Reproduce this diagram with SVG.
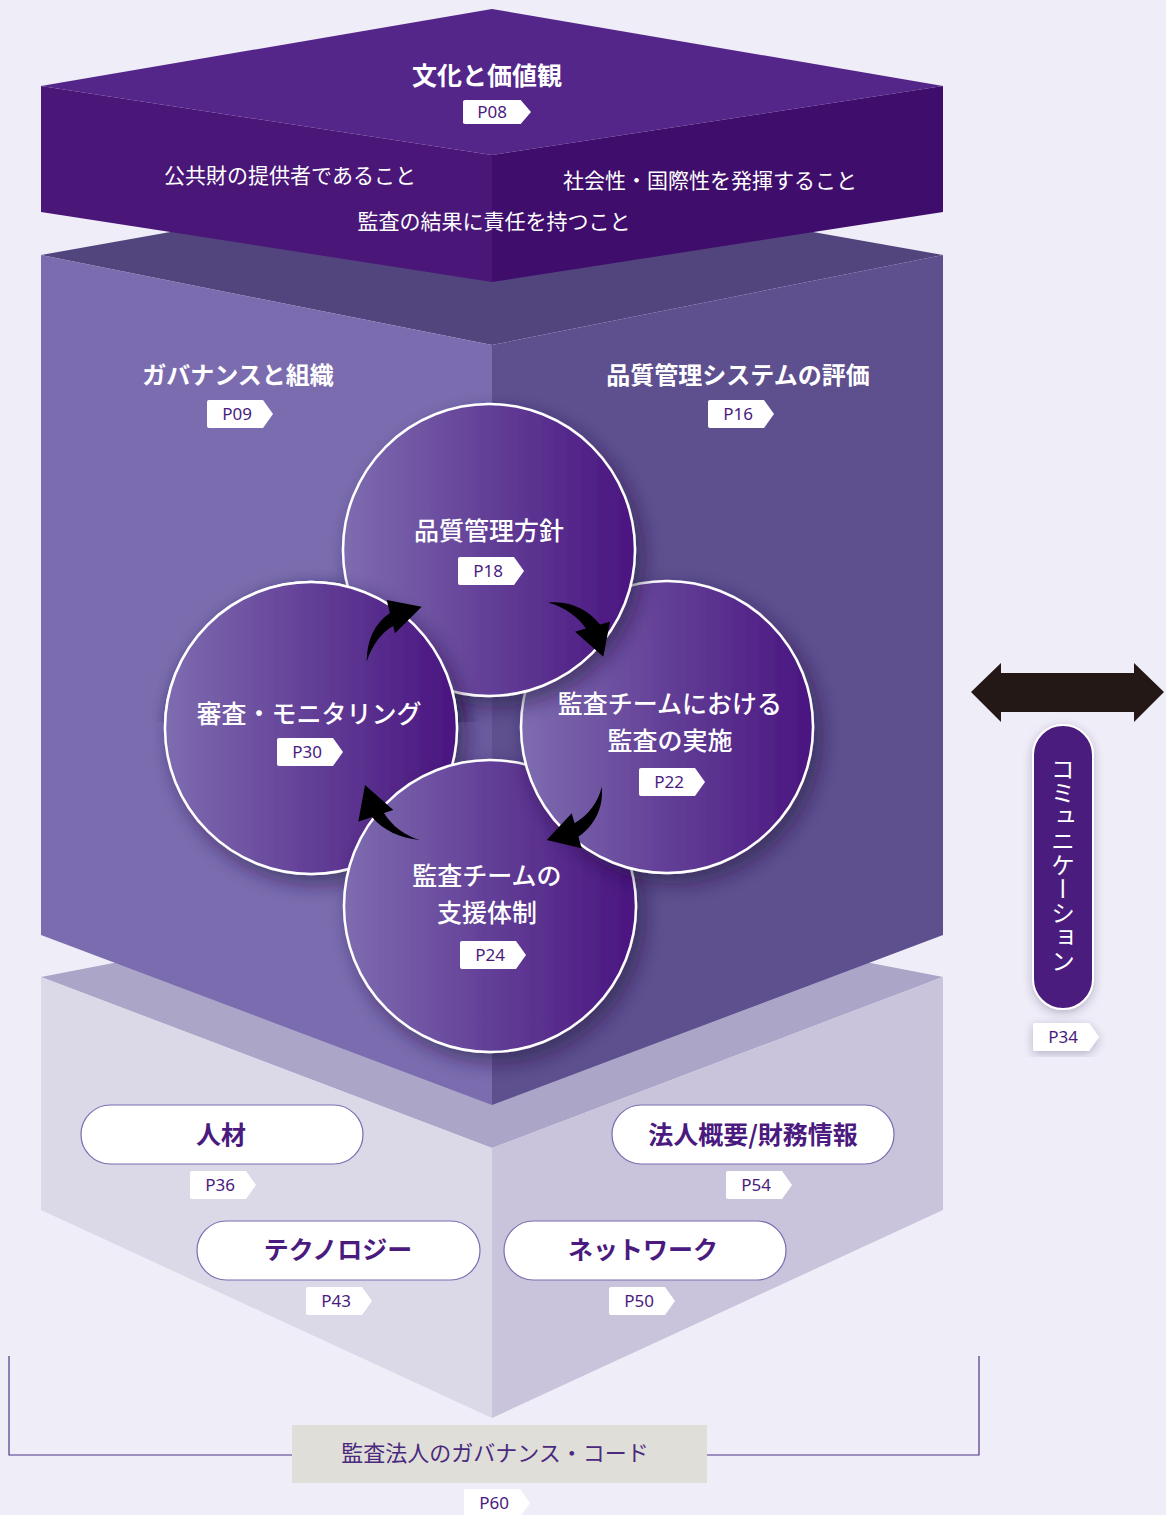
<svg xmlns="http://www.w3.org/2000/svg" width="1166" height="1515" viewBox="0 0 1166 1515">
<style>
.jp{font-family:"Noto Sans CJK JP","Noto Sans",sans-serif}
.wh{fill:#ffffff}
.h1{font-size:25px;font-weight:700}
.s1{font-size:21px;font-weight:400}
.h2{font-size:24px;font-weight:700}
.ct{font-size:25px;font-weight:500;fill:#ffffff}
.pill{fill:#ffffff;stroke:#7b6db0;stroke-width:1.2}
.pt{font-size:25px;font-weight:700;fill:#4a1a7e}
.tag{fill:#ffffff}
.tt{font-family:"Noto Sans","Liberation Sans",sans-serif;font-size:17px;fill:#4a1a7e;text-anchor:middle}
.circ{stroke:#ffffff;stroke-width:2.5}
.arr{fill:#000000}
</style>
<defs>
<linearGradient id="cg" x1="0" y1="0" x2="1" y2="0">
<stop offset="0" stop-color="#7e6cb0"/>
<stop offset="0.5" stop-color="#633f97"/>
<stop offset="1" stop-color="#4a1580"/>
</linearGradient>
<filter id="sh" x="-30%" y="-30%" width="170%" height="170%">
<feDropShadow dx="7" dy="9" stdDeviation="10" flood-color="#1c0d3a" flood-opacity="0.55"/>
</filter>
<filter id="sh2" x="-50%" y="-20%" width="200%" height="140%">
<feDropShadow dx="0" dy="3" stdDeviation="5" flood-color="#3a2a60" flood-opacity="0.3"/>
</filter>
<path id="tg" d="M2,0 H56 L66,14 L56,28 H2 Q0,28 0,26 V2 Q0,0 2,0 Z"/>
<clipPath id="upper"><rect x="0" y="0" width="1166" height="722"/></clipPath>
</defs>

<rect x="0" y="0" width="1166" height="1515" fill="#efedf7"/>

<!-- bottom block -->
<g id="base-block">
<polygon points="41,977 492,890 943,977 492,1148" fill="#aba6c8"/>
<polygon points="41,977 492,1148 492,1418 41,1210" fill="#dbd8e8"/>
<polygon points="943,977 492,1148 492,1418 943,1210" fill="#c9c4dc"/>
</g>

<!-- middle block -->
<g id="middle-block">
<polygon points="41,255 492,175 943,255 492,345" fill="#52457e"/>
<polygon points="41,255 492,345 492,1105 41,935" fill="#7b6cb0"/>
<polygon points="943,255 492,345 492,1105 943,935" fill="#5e4f8f"/>
<rect x="455" y="680" width="37" height="90" fill="#6a5a9f"/>
</g>

<!-- top block -->
<g id="culture">
<polygon points="41,86 492,9 943,86 492,155" fill="#55268a"/>
<polygon points="41,86 492,155 492,282 41,212" fill="#4a1778"/>
<polygon points="943,86 492,155 492,282 943,212" fill="#3f0d6b"/>
<text class="jp wh h1" x="487" y="85" text-anchor="middle">文化と価値観</text>
<use href="#tg" class="tag" transform="translate(463,100) scale(1.03,0.86)"/>
<text class="tt" x="492" y="118">P08</text>
<text class="jp wh s1" x="290" y="183" text-anchor="middle">公共財の提供者であること</text>
<text class="jp wh s1" x="710" y="188" text-anchor="middle">社会性・国際性を発揮すること</text>
<text class="jp wh s1" x="494" y="229" text-anchor="middle">監査の結果に責任を持つこと</text>
</g>

<g id="governance">
<text class="jp wh h2" x="238" y="384" text-anchor="middle">ガバナンスと組織</text>
<use href="#tg" class="tag" x="207" y="400"/>
<text class="tt" x="237" y="420">P09</text>
</g>
<g id="qms-evaluation">
<text class="jp wh h2" x="738" y="384" text-anchor="middle">品質管理システムの評価</text>
<use href="#tg" class="tag" x="708" y="400"/>
<text class="tt" x="738" y="420">P16</text>
</g>

<!-- circles -->
<g id="monitoring">
<circle class="circ" cx="311" cy="728" r="146" fill="url(#cg)" filter="url(#sh)"/>
</g>
<g id="team-support">
<circle class="circ" cx="490" cy="906" r="146" fill="url(#cg)" filter="url(#sh)"/>
</g>
<g id="audit-execution">
<circle class="circ" cx="667" cy="727" r="146" fill="url(#cg)" filter="url(#sh)"/>
</g>
<g id="quality-policy">
<circle class="circ" cx="489" cy="550" r="146" fill="url(#cg)" filter="url(#sh)"/>
</g>
<g id="monitoring-overlap" clip-path="url(#upper)">
<circle class="circ" cx="311" cy="728" r="146" fill="url(#cg)" filter="url(#sh)"/>
</g>

<g id="circle-labels">
<text class="jp ct" x="489" y="540" text-anchor="middle">品質管理方針</text>
<use href="#tg" class="tag" x="458" y="557"/>
<text class="tt" x="488" y="577">P18</text>

<text class="jp ct" x="309" y="723" text-anchor="middle">審査・モニタリング</text>
<use href="#tg" class="tag" x="277" y="738"/>
<text class="tt" x="307" y="758">P30</text>

<text class="jp ct" x="670" y="713" text-anchor="middle">監査チームにおける</text>
<text class="jp ct" x="670" y="750" text-anchor="middle">監査の実施</text>
<use href="#tg" class="tag" x="639" y="768"/>
<text class="tt" x="669" y="788">P22</text>

<text class="jp ct" x="487" y="885" text-anchor="middle">監査チームの</text>
<text class="jp ct" x="487" y="922" text-anchor="middle">支援体制</text>
<use href="#tg" class="tag" x="460" y="941"/>
<text class="tt" x="490" y="961">P24</text>
</g>

<!-- connectors -->
<g id="connectors">
<path class="arr" d="M366.7,661.7 C367,640 374,624 389.9,613 L386.7,600 L421.7,606.7 L395,633.3 L393.2,626 C382,632 372,645 366.7,661.7 Z"/>
<path class="arr" d="M548.3,602.7 C568,600 588,609 600,624.6 L610,621.7 L603.3,656.7 L575,631.7 L586,628.5 C578,617 565,607 548.3,602.7 Z"/>
<path class="arr" d="M601.7,786.7 C604,808 594,826 578.4,836.7 L581.7,848.3 L546.7,840 L571.7,813.3 L574.6,823.3 C588,815 598,803 601.7,786.7 Z"/>
<path class="arr" d="M420,840 C405,836 392,826 384,813.1 L393.3,810 L365,785 L358.3,821.7 L372,817.1 C384,831 400,838 420,840 Z"/>
<polygon fill="#231815" points="971,692 1001,663 1001,673 1134,673 1134,663 1164,692 1134,722 1134,712 1001,712 1001,722"/>
</g>

<!-- communication -->
<g id="communication">
<rect x="1033" y="725" width="60" height="284" rx="30" fill="#4a1a7e" stroke="#ffffff" stroke-width="2" filter="url(#sh2)"/>
<text class="jp" x="1063" y="865" fill="#ffffff" font-size="24" text-anchor="middle" style="writing-mode:vertical-rl">コミュニケーション</text>
<use href="#tg" class="tag" x="1033" y="1023" filter="url(#sh2)"/>
<text class="tt" x="1063" y="1043">P34</text>
</g>

<!-- pills -->
<g id="people">
<rect class="pill" x="81" y="1105" width="282" height="59" rx="29.5"/>
<text class="jp pt" x="221" y="1144" text-anchor="middle">人材</text>
<use href="#tg" class="tag" x="190" y="1171"/>
<text class="tt" x="220" y="1191">P36</text>
</g>
<g id="corporate-info">
<rect class="pill" x="612" y="1105" width="282" height="59" rx="29.5"/>
<text class="jp pt" x="753" y="1144" text-anchor="middle">法人概要/財務情報</text>
<use href="#tg" class="tag" x="726" y="1171"/>
<text class="tt" x="756" y="1191">P54</text>
</g>
<g id="technology">
<rect class="pill" x="197" y="1221" width="283" height="59" rx="29.5"/>
<text class="jp pt" x="338" y="1259" text-anchor="middle">テクノロジー</text>
<use href="#tg" class="tag" x="306" y="1287"/>
<text class="tt" x="336" y="1307">P43</text>
</g>
<g id="network">
<rect class="pill" x="504" y="1221" width="282" height="59" rx="29.5"/>
<text class="jp pt" x="643" y="1259" text-anchor="middle">ネットワーク</text>
<use href="#tg" class="tag" x="609" y="1287"/>
<text class="tt" x="639" y="1307">P50</text>
</g>

<!-- governance code -->
<g id="governance-code">
<polyline points="9,1356 9,1455 292,1455" fill="none" stroke="#4f3585" stroke-width="1.2"/>
<polyline points="707,1455 979,1455 979,1356" fill="none" stroke="#4f3585" stroke-width="1.2"/>
<rect x="292" y="1425" width="415" height="58" fill="#e0ded8"/>
<text class="jp" x="495" y="1461" fill="#4a2a7e" font-size="22" text-anchor="middle">監査法人のガバナンス・コード</text>
<use href="#tg" class="tag" x="464" y="1489"/>
<text class="tt" x="494" y="1509">P60</text>
</g>
</svg>
